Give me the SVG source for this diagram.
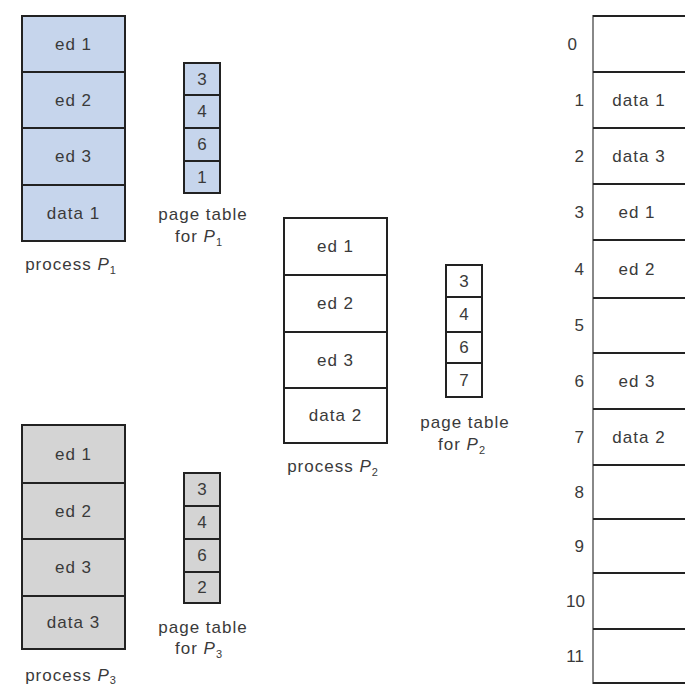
<svg xmlns="http://www.w3.org/2000/svg" width="685" height="686" viewBox="0 0 685 686">
<style>
text{font-family:"Liberation Sans",Arial,sans-serif;font-size:17px;fill:#3a3a3a;text-anchor:middle;letter-spacing:1px}
.box{stroke:#222;stroke-width:2}
.blue{fill:#c6d5ec}
.gray{fill:#d4d4d4}
.white{fill:#fff}
.div{stroke:#222;stroke-width:2}
.num{text-anchor:end;letter-spacing:0}
.sub{font-size:11px}
.it{font-style:italic}
</style>
<rect width="685" height="686" fill="#fff"/>
<g id="process-p1">
<rect class="box blue" x="22" y="16" width="103" height="225"/>
<line class="div" x1="22" y1="72" x2="125" y2="72"/>
<line class="div" x1="22" y1="128" x2="125" y2="128"/>
<line class="div" x1="22" y1="185" x2="125" y2="185"/>
<text x="73.5" y="50">ed 1</text>
<text x="73.5" y="106">ed 2</text>
<text x="73.5" y="162">ed 3</text>
<text x="73.5" y="219">data 1</text>
<text x="71" y="270">process <tspan class="it">P</tspan><tspan class="sub" dy="4">1</tspan></text>
</g>
<g id="pagetable-p1">
<rect class="box blue" x="184" y="63" width="36" height="130"/>
<line class="div" x1="184" y1="95" x2="220" y2="95"/>
<line class="div" x1="184" y1="128" x2="220" y2="128"/>
<line class="div" x1="184" y1="161" x2="220" y2="161"/>
<text x="202.5" y="85">3</text>
<text x="202.5" y="117">4</text>
<text x="202.5" y="150">6</text>
<text x="202.5" y="183">1</text>
<text x="203" y="220">page table</text>
<text x="199" y="242">for <tspan class="it">P</tspan><tspan class="sub" dy="4">1</tspan></text>
</g>
<g id="process-p2">
<rect class="box white" x="284" y="218" width="103" height="225"/>
<line class="div" x1="284" y1="275" x2="387" y2="275"/>
<line class="div" x1="284" y1="332" x2="387" y2="332"/>
<line class="div" x1="284" y1="388" x2="387" y2="388"/>
<text x="335.5" y="252">ed 1</text>
<text x="335.5" y="309">ed 2</text>
<text x="335.5" y="366">ed 3</text>
<text x="335.5" y="421">data 2</text>
<text x="333" y="472">process <tspan class="it">P</tspan><tspan class="sub" dy="4">2</tspan></text>
</g>
<g id="pagetable-p2">
<rect class="box white" x="446" y="265" width="36" height="132"/>
<line class="div" x1="446" y1="297" x2="482" y2="297"/>
<line class="div" x1="446" y1="332" x2="482" y2="332"/>
<line class="div" x1="446" y1="363" x2="482" y2="363"/>
<text x="464.5" y="287">3</text>
<text x="464.5" y="320">4</text>
<text x="464.5" y="353">6</text>
<text x="464.5" y="386">7</text>
<text x="465" y="428">page table</text>
<text x="462" y="450">for <tspan class="it">P</tspan><tspan class="sub" dy="4">2</tspan></text>
</g>
<g id="process-p3">
<rect class="box gray" x="22" y="425" width="103" height="224"/>
<line class="div" x1="22" y1="483" x2="125" y2="483"/>
<line class="div" x1="22" y1="539" x2="125" y2="539"/>
<line class="div" x1="22" y1="596" x2="125" y2="596"/>
<text x="73.5" y="460">ed 1</text>
<text x="73.5" y="517">ed 2</text>
<text x="73.5" y="573">ed 3</text>
<text x="73.5" y="628">data 3</text>
<text x="71" y="681">process <tspan class="it">P</tspan><tspan class="sub" dy="3">3</tspan></text>
</g>
<g id="pagetable-p3">
<rect class="box gray" x="184" y="473" width="36" height="130"/>
<line class="div" x1="184" y1="506" x2="220" y2="506"/>
<line class="div" x1="184" y1="539" x2="220" y2="539"/>
<line class="div" x1="184" y1="572" x2="220" y2="572"/>
<text x="202.5" y="495">3</text>
<text x="202.5" y="528">4</text>
<text x="202.5" y="561">6</text>
<text x="202.5" y="593">2</text>
<text x="203" y="633">page table</text>
<text x="199" y="654">for <tspan class="it">P</tspan><tspan class="sub" dy="4">3</tspan></text>
</g>
<g id="memory">
<line x1="593" y1="15" x2="593" y2="684" stroke="#888" stroke-width="2"/>
<g class="div">
<line x1="593" y1="16" x2="685" y2="16"/>
<line x1="593" y1="72" x2="685" y2="72"/>
<line x1="593" y1="128" x2="685" y2="128"/>
<line x1="593" y1="184" x2="685" y2="184"/>
<line x1="593" y1="240" x2="685" y2="240"/>
<line x1="593" y1="298" x2="685" y2="298"/>
<line x1="593" y1="353" x2="685" y2="353"/>
<line x1="593" y1="409" x2="685" y2="409"/>
<line x1="593" y1="465" x2="685" y2="465"/>
<line x1="593" y1="519" x2="685" y2="519"/>
<line x1="593" y1="573" x2="685" y2="573"/>
<line x1="593" y1="629" x2="685" y2="629"/>
<line x1="593" y1="683" x2="685" y2="683"/>
</g>
<text class="num" x="577" y="50">0</text>
<text class="num" x="584" y="106">1</text>
<text class="num" x="584" y="162">2</text>
<text class="num" x="584" y="218">3</text>
<text class="num" x="584" y="275">4</text>
<text class="num" x="584" y="331">5</text>
<text class="num" x="584" y="387">6</text>
<text class="num" x="584" y="443">7</text>
<text class="num" x="584" y="498">8</text>
<text class="num" x="584" y="552">9</text>
<text class="num" x="585" y="607">10</text>
<text class="num" x="584" y="662">11</text>
<text x="639" y="106">data 1</text>
<text x="639" y="162">data 3</text>
<text x="637" y="218">ed 1</text>
<text x="637" y="275">ed 2</text>
<text x="637" y="387">ed 3</text>
<text x="639" y="443">data 2</text>
</g>
</svg>
